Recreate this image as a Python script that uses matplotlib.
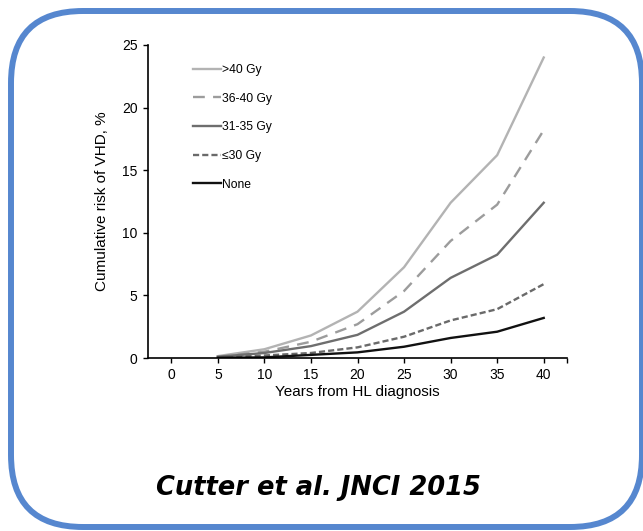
import numpy as np
import matplotlib
matplotlib.use("Agg")
import matplotlib.pyplot as plt
from matplotlib.patches import FancyBboxPatch

plt.rcParams["font.family"] = ["Liberation Sans", "DejaVu Sans"]

# data
years = [5, 10, 15, 20, 25, 30, 35, 40]
gt40 = [0.15, 0.7, 1.8, 3.7, 7.25, 12.4, 16.2, 24.0]
gy36_40 = [0.1, 0.5, 1.3, 2.7, 5.35, 9.35, 12.25, 18.2]
gy31_35 = [0.1, 0.4, 0.95, 1.85, 3.7, 6.4, 8.25, 12.4]
le30 = [0.05, 0.2, 0.4, 0.85, 1.7, 3.0, 3.9, 5.9]
none = [0.02, 0.05, 0.25, 0.45, 0.9, 1.6, 2.1, 3.2]

labels = [">40 Gy", "36-40 Gy", "31-35 Gy", "\u226430 Gy", "None"]
xticks = [0, 5, 10, 15, 20, 25, 30, 35, 40]
yticks = [0, 5, 10, 15, 20, 25]

fig = plt.figure(figsize=(6.43, 5.31), dpi=100)

# rounded blue frame
box = FancyBboxPatch((0.11, 0.04), 6.31, 5.16,
                     boxstyle="round,pad=0,rounding_size=0.72",
                     transform=fig.dpi_scale_trans, fill=False,
                     edgecolor="#5687cf", linewidth=4.3, clip_on=False)
fig.patches.append(box)

ax = fig.add_axes([148/643, 1-358/531, (567-148)/643, (358-45)/531])

ax.plot(years, gt40, color="#b3b3b3", lw=1.7, label=labels[0])
ax.plot(years, gy36_40, color="#9c9c9c", lw=1.7, dashes=(5, 3.5), label=labels[1])
ax.plot(years, gy31_35, color="#6e6e6e", lw=1.7, label=labels[2])
ax.plot(years, le30, color="#6a6a6a", lw=1.7, dashes=(2.6, 1.3), label=labels[3])
ax.plot(years, none, color="#111111", lw=1.7, label=labels[4])

ax.set_xlim(-2.5, 42.5)
ax.set_ylim(0, 25)
ax.set_xticks(xticks)
ax.set_xticks([42.5], minor=True)
ax.set_yticks(yticks)
ax.tick_params(axis="both", direction="out", length=3.5, width=1.0,
               labelsize=10, pad=4)
ax.tick_params(axis="x", which="minor", length=3.5, width=1.0)
for s in ["top", "right"]:
    ax.spines[s].set_visible(False)
for s in ["left", "bottom"]:
    ax.spines[s].set_linewidth(1.2)

ax.set_xlabel("Years from HL diagnosis", fontsize=11, labelpad=2)
ax.set_ylabel("Cumulative risk of VHD, %", fontsize=11, labelpad=9)

leg = ax.legend(loc="upper left", bbox_to_anchor=(193/643, 1-64/531),
                bbox_transform=fig.transFigure, frameon=False,
                borderpad=0, borderaxespad=0, handlelength=2.3,
                handletextpad=0.1, labelspacing=1.38,
                prop={"family": ["Liberation Sans Narrow", "Liberation Sans", "DejaVu Sans"], "size": 8.7})

fig.text(318/643, 1-488/531, "Cutter et al. JNCI 2015", ha="center", va="center",
         fontsize=18.5, fontweight="bold", fontstyle="italic",
         family=["DejaVu Sans"])

fig.savefig("out.png", dpi=100)
